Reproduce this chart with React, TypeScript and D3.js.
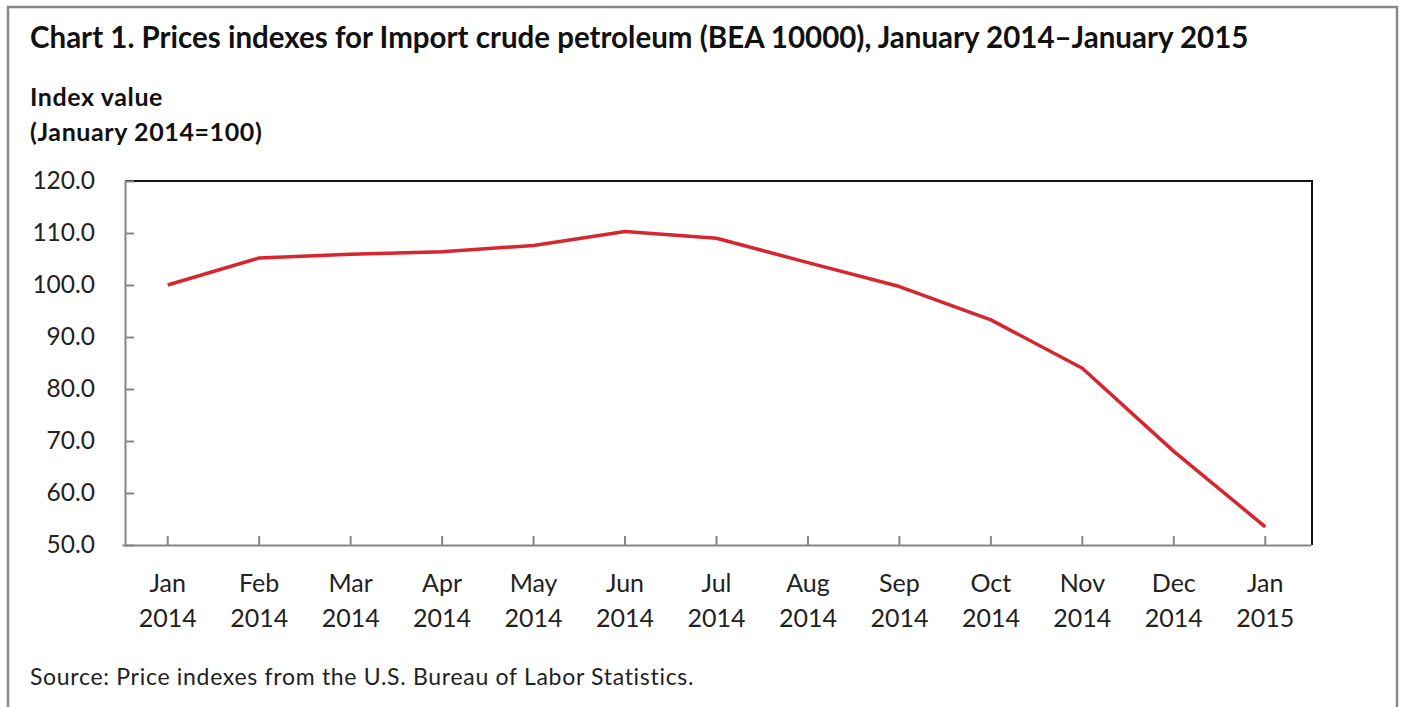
import React, { useEffect, useRef } from 'react';
import * as d3 from 'd3';

const months = ['Jan', 'Feb', 'Mar', 'Apr', 'May', 'Jun', 'Jul', 'Aug', 'Sep', 'Oct', 'Nov', 'Dec', 'Jan'];
const years = ['2014', '2014', '2014', '2014', '2014', '2014', '2014', '2014', '2014', '2014', '2014', '2014', '2015'];
const indexValues = [100.0, 105.2, 105.9, 106.4, 107.6, 110.3, 109.0, 104.3, 99.7, 93.3, 84.0, 68.0, 53.5];
const yTicks = [50, 60, 70, 80, 90, 100, 110, 120];

const title = 'Chart 1. Prices indexes for Import crude petroleum (BEA 10000), January 2014\u2013January 2015';
const source = 'Source: Price indexes from the U.S. Bureau of Labor Statistics.';

const W = 1401;
const H = 707;
const FONT = 'Lato, "Open Sans", sans-serif';

const App: React.FC = () => {
  const svgRef = useRef<SVGSVGElement>(null);

  useEffect(() => {
    if (!svgRef.current) return;
    const svg = d3.select(svgRef.current);
    svg.selectAll('*').remove();

    const plot = { left: 125, top: 181, right: 1312, bottom: 545 };
    const keys = months.map((m, i) => `${m} ${years[i]}`);

    const x = d3.scaleBand<string>()
      .domain(keys)
      .range([plot.left - 3, plot.right - 1])
      .paddingInner(0)
      .paddingOuter(0);

    const y = d3.scaleLinear()
      .domain([50, 120])
      .range([plot.bottom, plot.top]);

    // outer frame
    svg.append('rect')
      .attr('x', 8)
      .attr('y', 7)
      .attr('width', 1389)
      .attr('height', 720)
      .attr('fill', '#fff')
      .attr('stroke', '#888')
      .attr('stroke-width', 2.5);

    // title
    svg.append('text')
      .attr('x', 30)
      .attr('y', 48)
      .attr('font-family', FONT)
      .attr('font-weight', 700)
      .attr('font-size', 29.5)
      .attr('fill', '#111')
      .text(title);

    svg.append('text')
      .attr('x', 30)
      .attr('y', 106)
      .attr('font-family', FONT)
      .attr('font-weight', 700)
      .attr('font-size', 25)
      .attr('letter-spacing', 0.6)
      .attr('fill', '#111')
      .text('Index value');

    svg.append('text')
      .attr('x', 30)
      .attr('y', 141)
      .attr('font-family', FONT)
      .attr('font-weight', 700)
      .attr('font-size', 25)
      .attr('letter-spacing', 0.6)
      .attr('fill', '#111')
      .text('(January 2014=100)');

    // top and right frame of plot
    svg.append('path')
      .attr('d', `M${plot.left},${plot.top}H${plot.right}V${plot.bottom}`)
      .attr('fill', 'none')
      .attr('stroke', '#111')
      .attr('stroke-width', 2);

    // Y axis
    const yAxis = svg.append('g')
      .attr('transform', `translate(${plot.left},0)`)
      .call(d3.axisLeft(y).tickValues(yTicks).tickFormat(d3.format('.1f')).tickSizeInner(-9).tickSizeOuter(0).tickPadding(30));
    yAxis.select('.domain').attr('stroke', '#868686').attr('stroke-width', 2);
    yAxis.selectAll('line').attr('stroke', '#868686').attr('stroke-width', 2);
    yAxis.selectAll('text')
      .attr('font-family', FONT)
      .attr('font-size', 24.5)
      .attr('fill', '#222');

    // X axis
    const xAxis = svg.append('g')
      .attr('transform', `translate(0,${plot.bottom})`)
      .call(d3.axisBottom(x).tickSizeInner(-9).tickSizeOuter(0).tickFormat(() => ''));
    xAxis.select('.domain').attr('stroke', '#868686').attr('stroke-width', 2);
    xAxis.selectAll('line').attr('stroke', '#868686').attr('stroke-width', 2);

    const labels = svg.append('g')
      .attr('font-family', FONT)
      .attr('font-size', 25)
      .attr('fill', '#222')
      .attr('text-anchor', 'middle');
    keys.forEach((k, i) => {
      const cx = (x(k) || 0) + x.bandwidth() / 2;
      labels.append('text').attr('x', cx).attr('y', 592).text(months[i]);
      labels.append('text').attr('x', cx).attr('y', 627).text(years[i]);
    });

    // line
    const line = d3.line<number>()
      .x((_, i) => (x(keys[i]) || 0) + x.bandwidth() / 2)
      .y(d => y(d));

    svg.append('path')
      .datum(indexValues)
      .attr('d', line)
      .attr('fill', 'none')
      .attr('stroke', '#d7262f')
      .attr('stroke-width', 3.5)
      .attr('stroke-linejoin', 'round');

    // source
    svg.append('text')
      .attr('x', 30)
      .attr('y', 685)
      .attr('font-family', FONT)
      .attr('font-size', 23)
      .attr('letter-spacing', 0.7)
      .attr('fill', '#222')
      .text(source);
  }, []);

  return (
    <svg
      ref={svgRef}
      width={W}
      height={H}
      style={{ position: 'absolute', left: 0, top: 0, background: '#fff' }}
    />
  );
};

export default App;
